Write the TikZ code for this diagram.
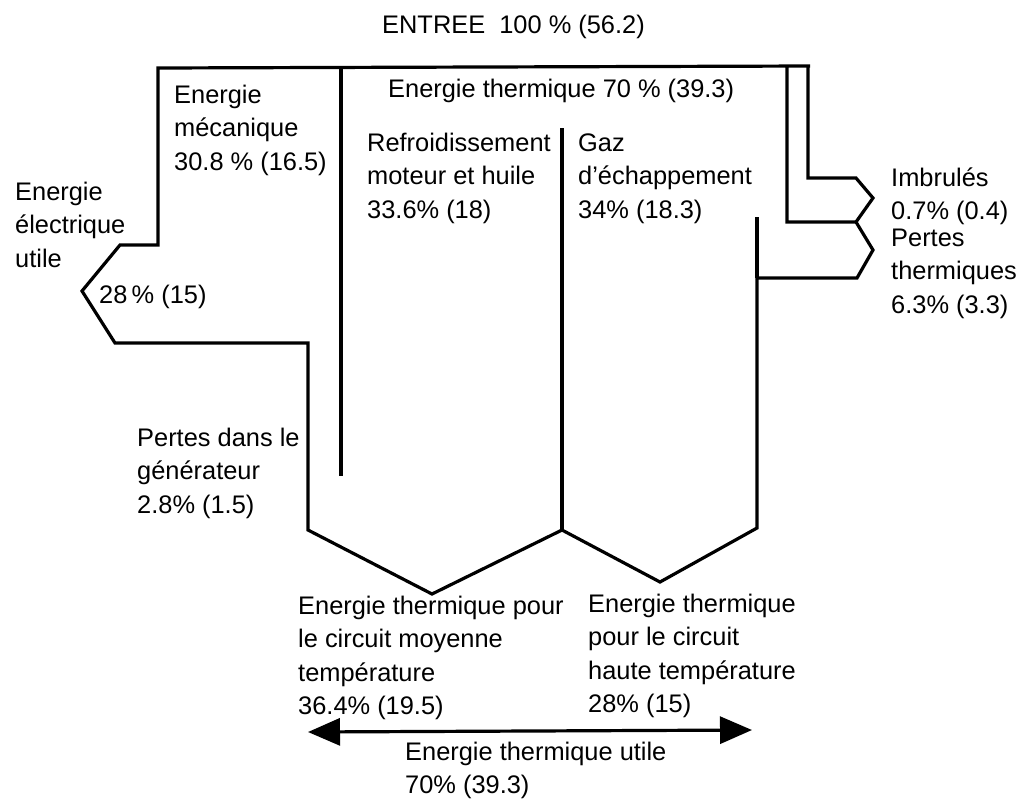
\documentclass[tikz,border=0pt]{standalone}
\usepackage{fontspec}
\setmainfont{Liberation Sans}
\usetikzlibrary{arrows.meta}
\newcommand{\fs}{\fontsize{25.4}{33.5}\selectfont}
\begin{document}
\begin{tikzpicture}[x=1pt,y=-1pt,
  flow/.style={line width=3.2pt, line join=miter, line cap=butt},
  txt/.style={anchor=north west, inner sep=0pt, align=left, font=\fs, yshift=23.45pt},
  dbl/.style={line width=3.2pt, {Triangle[length=32pt,width=27pt]}-{Triangle[length=32pt,width=27pt]}}]
\useasboundingbox[fill=white] (0,0) rectangle (1016,801);

% outline
\draw[flow] (810,66) -- (158,68) -- (158,245) -- (120,245) -- (82,291) -- (115,343)
  -- (308,343) -- (308,530) -- (432,594) -- (562,530) -- (660,582) -- (757,528)
  -- (757,278) -- (857,278) -- (873,250) -- (856,222) -- (787,222) -- (787,66);
\draw[flow] (808,66) -- (808,178) -- (856,178) -- (873,198) -- (856,222);
\draw[flow] (341,67) -- (341,476);
\draw[flow] (562,128) -- (562,530);
\draw[flow] (757,217) -- (757,278);

% arrow
\coordinate (aL) at (308,732);
\coordinate (aR) at (752,730);
\draw[dbl] (aL) -- (aR);

% texts
\node[txt] (entree) at (382,33) {\strut ENTREE\ \ 100 \% (56.2)};
\node[txt] (thermique) at (388,97) {\strut Energie thermique 70 \% (39.3)};
\node[txt] (meca) at (174,103) {\strut Energie\\mécanique\\30.8 \% (16.5)};
\node[txt] (refr) at (367,151) {\strut Refroidissement\\moteur et huile\\33.6\% (18)};
\node[txt] (gaz) at (578,151) {\strut Gaz\\d’échappement\\34\% (18.3)};
\node[txt] (elec) at (15,200) {\strut Energie\\électrique\\utile};
\node[txt] (vingthuit) at (99,303) {\strut 28\,\% (15)};
\node[txt] (imbr) at (891,186) {\strut Imbrulés\\0.7\% (0.4)};
\node[txt] (pertes) at (891,246) {\strut Pertes\\thermiques\\6.3\% (3.3)};
\node[txt] (gen) at (137,446) {\strut Pertes dans le\\générateur\\2.8\% (1.5)};
\node[txt] (moy) at (298,614) {\strut Energie thermique pour\\le circuit moyenne\\température\\36.4\% (19.5)};
\node[txt] (haute) at (588,612) {\strut Energie thermique\\pour le circuit\\haute température\\28\% (15)};
\node[txt] (utile) at (405,760) {\strut Energie thermique utile\\70\% (39.3)};
\end{tikzpicture}
\end{document}
